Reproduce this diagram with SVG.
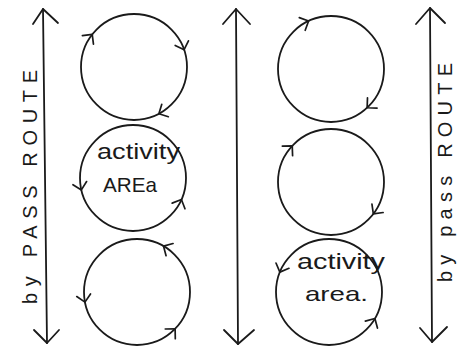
<svg xmlns="http://www.w3.org/2000/svg" xmlns:xlink="http://www.w3.org/1999/xlink" width="461" height="347" viewBox="0 0 461 347">
<style>
.ln{fill:none;stroke:#1a1a1a;stroke-width:1.8;stroke-linecap:round;stroke-linejoin:round}
.ch{fill:none;stroke:#1a1a1a;stroke-width:1.7;stroke-linecap:round;stroke-linejoin:round}
.lbl{font-family:"Liberation Sans","DejaVu Sans",sans-serif;fill:#1a1a1a}
</style>
<defs>
<path id="chev" d="M-7,-7 L0,0 L-7,7"/>
</defs>
<rect width="461" height="347" fill="#ffffff"/>
<g id="connectors">
<g id="route-left">
<path class="ln" d="M43,9 L47,343"/>
<path class="ln" d="M33,24 L43,9 L58,23"/>
<path class="ln" d="M34,330 L47,343 L59,330"/>
</g>
<g id="route-middle">
<path class="ln" d="M236,9 L238,344"/>
<path class="ln" d="M223,24 L236,9 L250,24"/>
<path class="ln" d="M224,330 L238,344 L254,330"/>
</g>
<g id="route-right">
<path class="ln" d="M430,8 L432,342"/>
<path class="ln" d="M416,24 L430,8 L445,23"/>
<path class="ln" d="M420,328 L432,342 L447,327"/>
</g>
</g>
<g id="label-left">
<text class="lbl" transform="translate(37,304) rotate(-90)" font-size="20" textLength="234" lengthAdjust="spacing">by PASS ROUTE</text>
</g>
<g id="label-right">
<text class="lbl" transform="translate(452,282) rotate(-90)" font-size="20" textLength="219" lengthAdjust="spacing">by pass ROUTE</text>
</g>
<g id="circle-l1">
<circle class="ln" cx="134" cy="67" r="53"/>
<use class="ch" xlink:href="#chev" href="#chev" transform="rotate(-142 134 67) translate(187 67) rotate(90)"/>
<use class="ch" xlink:href="#chev" href="#chev" transform="rotate(-19 134 67) translate(187 67) rotate(90)"/>
<use class="ch" xlink:href="#chev" href="#chev" transform="rotate(62 134 67) translate(187 67) rotate(90)"/>
</g>
<g id="circle-l2">
<circle class="ln" cx="133" cy="178" r="53"/>
<use class="ch" xlink:href="#chev" href="#chev" transform="rotate(167 133 178) translate(186 178) rotate(-90)"/>
<use class="ch" xlink:href="#chev" href="#chev" transform="rotate(24 133 178) translate(186 178) rotate(-90)"/>
<text class="lbl" x="97" y="159" font-size="22" textLength="83" lengthAdjust="spacingAndGlyphs">activity</text>
<text class="lbl" x="103" y="192" font-size="21" textLength="54" lengthAdjust="spacingAndGlyphs">AREa</text>
</g>
<g id="circle-l3">
<circle class="ln" cx="137" cy="292" r="53"/>
<use class="ch" xlink:href="#chev" href="#chev" transform="rotate(-60 137 292) translate(190 292) rotate(-90)"/>
<use class="ch" xlink:href="#chev" href="#chev" transform="rotate(169 137 292) translate(190 292) rotate(-90)"/>
<use class="ch" xlink:href="#chev" href="#chev" transform="rotate(44 137 292) translate(190 292) rotate(-90)"/>
</g>
<g id="circle-r1">
<circle class="ln" cx="331" cy="69" r="53"/>
<use class="ch" xlink:href="#chev" href="#chev" transform="rotate(-115 331 69) translate(384 69) rotate(90)"/>
<use class="ch" xlink:href="#chev" href="#chev" transform="rotate(47 331 69) translate(384 69) rotate(90)"/>
</g>
<g id="circle-r2">
<circle class="ln" cx="331" cy="182" r="53"/>
<use class="ch" xlink:href="#chev" href="#chev" transform="rotate(-137 331 182) translate(384 182) rotate(90)"/>
<use class="ch" xlink:href="#chev" href="#chev" transform="rotate(37 331 182) translate(384 182) rotate(90)"/>
</g>
<g id="circle-r3">
<circle class="ln" cx="329" cy="292" r="53"/>
<use class="ch" xlink:href="#chev" href="#chev" transform="rotate(202 329 292) translate(382 292) rotate(-90)"/>
<use class="ch" xlink:href="#chev" href="#chev" transform="rotate(30 329 292) translate(382 292) rotate(-90)"/>
<text class="lbl" x="297" y="269" font-size="22" textLength="88" lengthAdjust="spacingAndGlyphs">activity</text>
<text class="lbl" x="305" y="301" font-size="21" textLength="63" lengthAdjust="spacingAndGlyphs">area.</text>
</g>
</svg>
